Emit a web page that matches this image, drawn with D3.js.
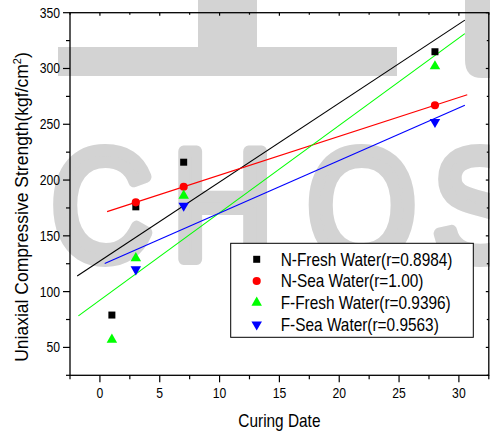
<!DOCTYPE html>
<html>
<head>
<meta charset="utf-8">
<script src="https://cdn.jsdelivr.net/npm/d3@7"></script>
<style>
  html, body { margin: 0; padding: 0; background: #fff; }
  svg { display: block; }
  text { font-family: "Liberation Sans", Arial, sans-serif; }
</style>
</head>
<body>
<svg id="chart" width="490" height="434"></svg>
<script>
// ---- data ----
const days = [1, 3, 7, 28];
const seriesNames = ["N-Fresh Water(r=0.8984)", "N-Sea Water(r=1.00)", "F-Fresh Water(r=0.9396)", "F-Sea Water(r=0.9563)"];
const nFresh = [79, 176, 216, 315];
const nSea   = [null, 180, 194, 267];
const fFresh = [57, 130, 186, 302];
const fSea   = [null, 120, 177, 252];
const fitStart = [-1.9, 0.6, -1.8, 0.4];
const fitEnd   = [30.5, 30.7, 30.5, 30.5];
const xTicks = [0, 5, 10, 15, 20, 25, 30];
const yTicks = [50, 100, 150, 200, 250, 300, 350];
const colors = ["#000000", "#ff0000", "#00ff00", "#0000ff"];
const symbols = ["square", "circle", "triUp", "triDown"];

const svg = d3.select("#chart");
const L = 70, R = 488.8, T = 12.7, B = 375.3;
const x = d3.scaleLinear().domain([-2.5, 32.5]).range([L, R]);
const y = d3.scaleLinear().domain([25, 350]).range([B, T]);
const SX = 0.87;

// ---- watermark (background) ----
const WM = "#d3d3d3";
const wm = svg.append("g").attr("fill", WM);
wm.append("rect").attr("x", 198).attr("y", 0).attr("width", 59).attr("height", 76);
wm.append("rect").attr("x", 58).attr("y", 47).attr("width", 339).attr("height", 29);
wm.append("path").attr("d", "M465,0 H490 V78 H482 Q465,78 465,60 Z");
const WX = 0.9, WF = 155, WS = 12;
const letters = [["C", 53, 0.05], ["H", 178, 0.08], ["O", 309, 0.05], ["S", 434, 0.047]];
const wmText = wm.append("g").attr("transform", `scale(${WX},1)`);
letters.forEach(([ch, ink, lsb]) => {
  wmText.append("text")
    .attr("x", (ink + WS / 2 * WX - lsb * WF * WX) / WX)
    .attr("y", 265 - WS / 2)
    .attr("font-size", WF)
    .attr("fill", WM)
    .attr("stroke", WM)
    .attr("stroke-width", WS)
    .attr("stroke-linejoin", "round")
    .text(ch);
});

// ---- helper for horizontally condensed text ----
function hText(g, tx, ty, str, size, anchor) {
  return g.append("text")
    .attr("transform", `translate(${tx},${ty}) scale(${SX},1)`)
    .attr("font-size", size)
    .attr("text-anchor", anchor || "start")
    .attr("fill", "#000")
    .text(str);
}

// ---- frame ----
svg.append("rect").attr("x", L).attr("y", T).attr("width", R - L).attr("height", B - T)
  .attr("fill", "none").attr("stroke", "#000").attr("stroke-width", 1.3);

// ---- axes ticks ----
const xMinor = d3.range(-2.5, 32.6, 2.5).filter(v => !xTicks.includes(v));
const yMinor = d3.range(25, 351, 25).filter(v => !yTicks.includes(v));
const ax = svg.append("g").attr("stroke", "#000").attr("stroke-width", 1.2);
xTicks.forEach(v => {
  ax.append("line").attr("x1", x(v)).attr("x2", x(v)).attr("y1", B).attr("y2", B + 7);
  ax.append("line").attr("x1", x(v)).attr("x2", x(v)).attr("y1", T).attr("y2", T + 3);
});
xMinor.forEach(v => {
  ax.append("line").attr("x1", x(v)).attr("x2", x(v)).attr("y1", B).attr("y2", B + 4);
  ax.append("line").attr("x1", x(v)).attr("x2", x(v)).attr("y1", T).attr("y2", T + 2);
});
yTicks.forEach(v => {
  ax.append("line").attr("x1", L).attr("x2", L - 7).attr("y1", y(v)).attr("y2", y(v));
  ax.append("line").attr("x1", R).attr("x2", R - 3).attr("y1", y(v)).attr("y2", y(v));
});
yMinor.forEach(v => {
  ax.append("line").attr("x1", L).attr("x2", L - 4).attr("y1", y(v)).attr("y2", y(v));
  ax.append("line").attr("x1", R).attr("x2", R - 2).attr("y1", y(v)).attr("y2", y(v));
});

// tick labels
const lab = svg.append("g");
xTicks.forEach(v => hText(lab, x(v), 398, String(v), 14, "middle"));
yTicks.forEach(v => hText(lab, 60, y(v) + 5, String(v), 14, "end"));

// axis titles
hText(svg, (L + R) / 2, 426.5, "Curing Date", 17.7, "middle");
const yt = svg.append("text")
  .attr("transform", `translate(28,207) rotate(-90)`)
  .attr("font-size", 17.5)
  .attr("text-anchor", "middle");
yt.append("tspan").text("Uniaxial Compressive Strength(kgf/cm");
yt.append("tspan").attr("font-size", 11).attr("dy", -7).text("2");
yt.append("tspan").attr("dy", 7).text(")");

// ---- data series ----
const allSeries = [nFresh, nSea, fFresh, fSea];
function symPath(kind) {
  if (kind === "square") return d3.symbol(d3.symbolSquare, 49)();
  if (kind === "circle") return d3.symbol(d3.symbolCircle, 52)();
  return d3.symbol(d3.symbolTriangle, 48)();
}
const lineGen = d3.line().x(d => x(d[0])).y(d => y(d[1]));
const plot = svg.append("g");
allSeries.forEach((vals, i) => {
  const pts = days.map((d, j) => [d, vals[j]]).filter(p => p[1] != null);
  // least squares fit
  const mx = d3.mean(pts, p => p[0]), my = d3.mean(pts, p => p[1]);
  const sxy = d3.sum(pts, p => (p[0] - mx) * (p[1] - my));
  const sxx = d3.sum(pts, p => (p[0] - mx) ** 2);
  const slope = sxy / sxx, icpt = my - slope * mx;
  const fit = [[fitStart[i], icpt + slope * fitStart[i]], [fitEnd[i], icpt + slope * fitEnd[i]]];
  plot.append("path").attr("d", lineGen(fit)).attr("fill", "none")
    .attr("stroke", colors[i]).attr("stroke-width", 1.1);
});
allSeries.forEach((vals, i) => {
  const pts = days.map((d, j) => [d, vals[j]]).filter(p => p[1] != null);
  pts.forEach(p => {
    plot.append("path").attr("d", symPath(symbols[i]))
      .attr("transform", `translate(${x(p[0])},${y(p[1])})` + (symbols[i] === "triDown" ? " rotate(180)" : ""))
      .attr("fill", colors[i]);
  });
});

// ---- legend ----
const lg = svg.append("g");
lg.append("rect").attr("x", 230.7).attr("y", 243.3).attr("width", 242.6).attr("height", 94)
  .attr("fill", "#fff").attr("stroke", "#000").attr("stroke-width", 1);
const rowY = [259.3, 281, 302.7, 324.5];
seriesNames.forEach((name, i) => {
  lg.append("path").attr("d", symPath(symbols[i]))
    .attr("transform", `translate(256.7,${rowY[i]})` + (symbols[i] === "triDown" ? " rotate(180)" : ""))
    .attr("fill", colors[i]);
  hText(lg, 280.7, rowY[i] + 6.4, name, 17.7, "start");
});
</script>
</body>
</html>
